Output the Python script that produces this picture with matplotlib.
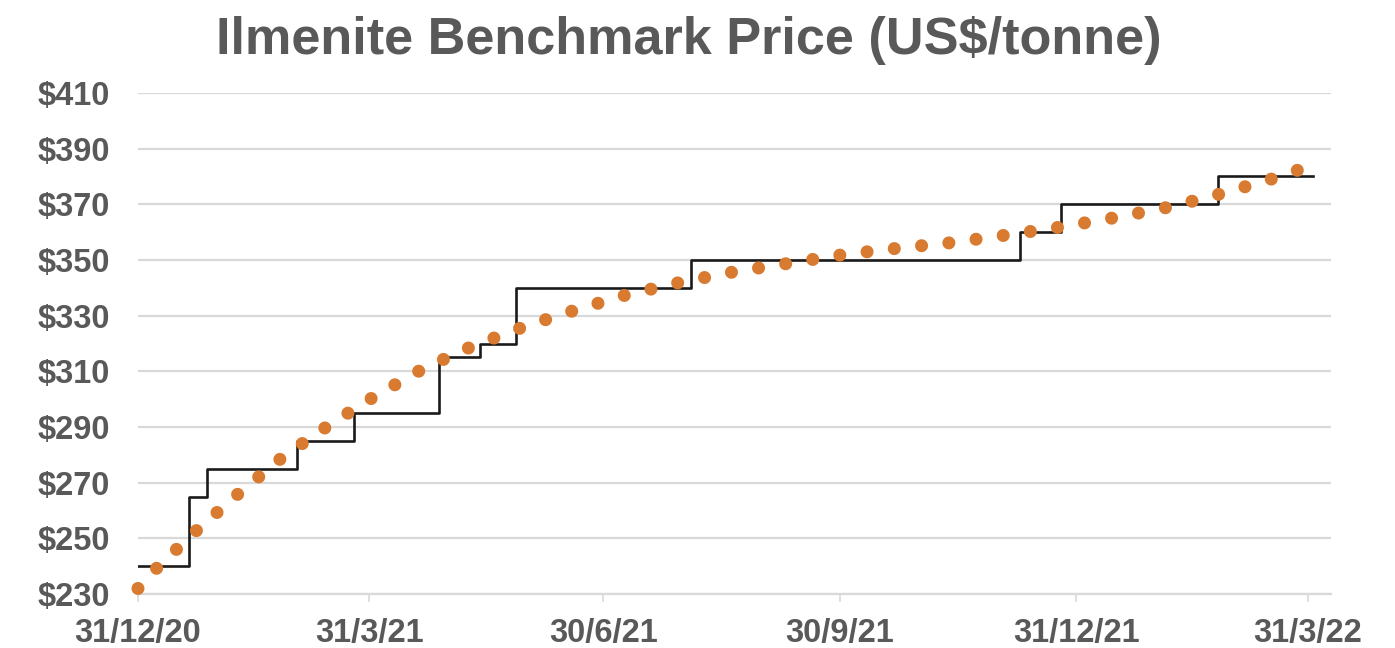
import matplotlib
matplotlib.use("Agg")
import matplotlib.pyplot as plt
import numpy as np

# Benchmark price steps (date of change, price in US$/tonne)
step_dates = ["2020-12-31", "2021-01-20", "2021-01-27", "2021-03-03", "2021-03-25",
              "2021-04-27", "2021-05-13", "2021-05-27", "2021-08-03", "2021-12-09",
              "2021-12-25", "2022-02-24", "2022-04-02"]
step_prices = [240, 265, 275, 285, 295, 315, 320, 340, 350, 360, 370, 380, 380]

# Trend line
trend_dates = ["2020-12-31", "2021-01-08", "2021-01-23", "2021-02-08", "2021-02-25",
               "2021-03-15", "2021-04-02", "2021-04-21", "2021-05-10", "2021-05-30",
               "2021-06-19", "2021-07-09", "2021-07-30", "2021-08-20", "2021-09-10",
               "2021-10-01", "2021-10-23", "2021-11-13", "2021-12-04", "2021-12-26",
               "2022-01-16", "2022-02-06", "2022-02-26", "2022-03-18", "2022-03-31"]
trend_prices = [232, 240, 253, 266, 279, 290.5, 301, 311, 319, 326,
                332, 337.5, 342, 345.8, 348.8, 351.9, 354.3, 356.3, 359, 362,
                365.4, 369.2, 374, 379.4, 383.5]

tick_dates = ["2020-12-31", "2021-03-31", "2021-06-30", "2021-09-30", "2021-12-31", "2022-03-31"]
tick_labels = ["31/12/20", "31/3/21", "30/6/21", "30/9/21", "31/12/21", "31/3/22"]
y_ticks = [230, 250, 270, 290, 310, 330, 350, 370, 390, 410]

plt.rcParams['font.family'] = ['Liberation Sans', 'DejaVu Sans']
text_color = '#595959'

fig = plt.figure(figsize=(13.95, 6.48), dpi=100)
ax = fig.add_axes([0.0989, 0.0833, 0.8552, 0.7732])

sd = np.array(step_dates, dtype='datetime64[D]')
td = np.array(trend_dates, dtype='datetime64[D]')

ax.plot(sd, step_prices, drawstyle='steps-post', color='#1a1a1a', linewidth=1.9, zorder=3)
trend, = ax.plot(td, trend_prices, color='#d87a2f', linewidth=9.4, zorder=4, clip_on=False)
trend.set_linestyle((0, (0.001, 2.1)))
trend.set_dash_capstyle('round')

ax.set_ylim(230, 410)
ax.set_xlim(np.datetime64("2020-12-31"), np.datetime64("2022-04-09"))
ax.set_yticks(y_ticks)
ax.set_yticklabels([f"${v}" for v in y_ticks])
ax.set_xticks(np.array(tick_dates, dtype='datetime64[D]'))
ax.set_xticklabels(tick_labels)

ax.grid(axis='y', color='#d9d9d9', linewidth=1.6)
ax.set_axisbelow(True)
for side in ['top', 'right', 'left']:
    ax.spines[side].set_visible(False)
ax.spines['bottom'].set_color('#d9d9d9')
ax.spines['bottom'].set_linewidth(1.6)

ax.tick_params(axis='y', length=0, pad=20, labelsize=23.5, labelcolor=text_color)
ax.tick_params(axis='x', length=6, width=1.2, color='#d9d9d9', pad=11,
               labelsize=23.5, labelcolor=text_color)
for lab in ax.get_xticklabels() + ax.get_yticklabels():
    lab.set_fontweight('bold')

fig.text(0.4935, 1 - 54 / 648, "Ilmenite Benchmark Price (US$/tonne)", ha='center',
         va='baseline', fontsize=37.6, fontweight='bold', color=text_color)

fig.savefig("out.png", dpi=100)
